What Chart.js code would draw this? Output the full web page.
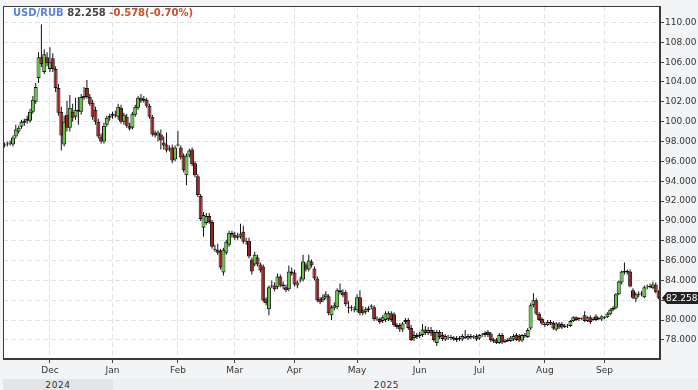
<!DOCTYPE html>
<html><head><meta charset="utf-8">
<script src="https://cdn.jsdelivr.net/npm/chart.js@4.4.1/dist/chart.umd.min.js"></script>
<style>
html,body{margin:0;padding:0;background:#f3f4f6;}
#wrap{position:relative;width:698px;height:390px;overflow:hidden;background:#f3f4f6;}
#c{position:absolute;left:0;top:0;}
#title{position:absolute;left:13px;top:7px;font:bold 10px "DejaVu Sans",sans-serif;white-space:nowrap;z-index:2;}
#title .sym{color:#5a82d8;}
#title .px{color:#444;}
#title .chg{color:#c8502c;}
.band{position:absolute;top:379px;height:11px;font:9px "DejaVu Sans",sans-serif;color:#333;text-align:center;line-height:13px;overflow:hidden;letter-spacing:0.6px;}
</style></head>
<body>
<div id="wrap">
  <div class="band" id="b2024" style="left:3px;width:110px;background:#e4e5e7;">2024</div>
  <div class="band" id="b2025" style="left:113px;width:585px;background:#eeeff1;"><span style="position:absolute;left:0;width:547px;text-align:center;">2025</span></div>
  <canvas id="c" width="698" height="390"></canvas>
  <div id="title"><span class="sym">USD/RUB</span> <span class="px">82.258</span> <span class="chg">-0.578(-0.70%)</span></div>
</div>
<script>
const startDate = '2024-11-08';
const endDate = '2025-09-26';
const monthNames = ['Jan','Feb','Mar','Apr','May','Jun','Jul','Aug','Sep','Oct','Nov','Dec'];
const yTickValues = [78,80,82,84,86,88,90,92,94,96,98,100,102,104,106,108,110];
const yTickLabels = ['78.000','80.000','82.000','84.000','86.000','88.000','90.000','92.000','94.000','96.000','98.000','100.00','102.00','104.00','106.00','108.00','110.00'];
const lastPriceLabel = '82.258';

const openV = [
97.6,97.7,97.8,97.7,98.5,99.0,99.5,99.9,100.1,100.1,
101.0,102.0,104.4,106.5,105.0,106.5,105.3,106.4,105.3,103.4,
101.0,97.7,100.7,99.4,101.0,100.5,101.2,101.0,102.4,103.4,
102.5,101.9,101.2,100.0,98.5,98.0,99.7,100.4,100.6,100.7,
100.5,101.4,100.0,100.5,99.6,99.4,100.7,101.4,102.4,102.3,
102.2,101.6,100.5,98.9,98.6,98.7,97.9,97.7,97.3,97.4,
96.2,97.6,97.4,96.6,94.6,96.6,97.2,95.8,94.5,92.5,
89.3,89.8,90.5,89.9,87.2,87.1,87.0,84.8,86.8,87.6,
88.6,88.6,88.3,88.4,88.9,87.9,88.0,86.1,85.6,86.3,
85.6,85.4,82.1,81.1,83.4,83.5,83.3,84.4,83.4,83.3,
83.1,84.9,84.8,83.5,84.0,84.1,85.6,85.1,85.9,85.2,
84.2,82.1,82.0,82.3,82.4,80.5,81.2,81.3,83.0,82.8,
82.8,81.3,81.2,81.1,81.0,82.3,81.0,80.8,81.0,81.35,
81.3,80.15,80.1,79.9,80.0,80.1,80.7,80.6,79.5,79.5,
79.05,79.8,80.0,79.2,78.2,78.3,78.4,78.5,79.05,78.7,
79.0,78.8,77.7,78.8,78.5,78.05,78.25,78.3,78.25,78.2,
78.1,78.05,78.3,78.15,78.4,78.25,78.4,78.15,78.5,78.5,
78.8,78.65,77.85,78.05,77.7,78.5,77.8,77.9,77.9,78.05,
78.5,78.4,77.95,78.4,78.3,79.15,81.5,82.0,80.65,80.1,
79.6,79.5,79.65,79.7,79.05,79.65,79.6,79.3,79.4,79.4,
79.9,80.3,80.1,80.15,80.5,79.9,80.3,80.0,80.4,80.1,
80.05,80.2,80.3,80.6,81.05,81.25,82.6,83.8,84.8,84.95,
84.9,83.0,82.15,82.55,82.65,82.3,83.3,83.45,83.2,83.6,82.8];
const highV = [
97.9,98.0,98.1,98.6,99.7,99.6,100.2,100.3,100.6,101.3,
102.6,103.9,107.0,109.8,107.3,107.0,107.5,106.9,105.6,103.8,
101.5,100.6,102.1,102.7,101.8,102.4,102.5,102.8,103.5,104.2,
102.8,102.2,101.5,100.3,98.8,99.9,100.6,100.8,101.0,101.1,
101.8,101.7,100.9,100.8,99.9,101.0,101.7,102.6,102.8,102.6,
102.4,101.8,100.7,99.1,99.1,99.2,98.5,98.9,97.6,97.7,
97.6,99.05,97.6,96.8,96.8,97.3,97.4,96.0,94.7,92.7,
90.9,90.8,90.8,90.1,87.6,87.7,87.2,87.3,88.1,89.0,
89.0,88.9,88.8,89.7,89.5,88.3,88.3,86.3,86.9,86.6,
85.8,85.6,82.3,83.5,84.0,83.8,84.7,84.6,83.9,83.6,
85.5,85.3,85.1,84.0,84.4,86.6,85.8,86.6,86.1,85.4,
84.4,82.3,82.6,82.9,82.6,81.5,81.8,83.2,83.7,83.1,
83.0,81.9,81.5,81.4,82.6,83.0,81.4,81.3,81.4,81.6,
81.5,80.4,80.3,80.5,80.9,80.9,80.9,80.8,79.7,79.7,
79.8,80.2,80.2,79.5,78.9,78.7,78.8,79.6,79.4,79.3,
79.3,79.0,79.0,79.0,78.8,78.6,78.5,78.5,78.4,78.4,
78.4,78.6,79.0,78.6,78.6,78.5,78.6,78.6,78.7,78.9,
79.0,78.8,78.2,78.2,78.7,78.7,78.1,78.2,78.4,78.6,
78.7,78.6,78.6,78.7,79.2,81.7,82.7,82.2,80.8,80.3,
79.8,80.0,80.0,79.9,79.8,79.8,79.8,79.6,79.6,80.0,
80.4,80.4,80.3,80.3,80.9,80.4,80.5,80.3,80.6,80.3,
80.5,80.4,80.8,81.2,81.4,82.7,84.0,85.0,85.8,85.1,
85.1,83.2,82.8,82.9,82.9,83.5,83.6,83.7,83.9,83.8,83.0];
const lowV = [
97.4,97.5,97.6,97.5,98.3,98.8,99.3,99.6,99.8,99.9,
100.8,101.8,103.9,105.5,104.8,105.6,105.0,105.0,103.0,100.6,
97.1,97.5,99.0,99.0,100.0,100.2,99.7,100.7,102.2,102.3,
101.6,100.2,99.7,98.3,97.8,97.8,99.5,100.1,100.3,100.4,
100.2,99.8,99.7,99.4,99.1,99.2,100.5,101.2,101.9,101.9,
101.4,100.3,98.5,98.4,98.0,97.2,97.2,96.9,97.0,95.8,
96.0,97.5,96.2,94.9,93.6,96.4,95.5,94.4,92.4,90.0,
88.4,89.6,89.7,87.2,86.9,86.6,85.1,84.5,86.6,87.4,
88.3,88.1,88.1,88.2,87.7,87.6,86.2,84.6,85.4,85.4,
84.8,81.8,81.5,80.5,83.2,82.9,83.1,83.3,83.1,82.8,
82.9,84.5,83.4,83.2,83.8,83.9,84.9,84.9,85.3,84.0,
81.8,81.6,81.8,82.1,80.5,80.0,81.0,81.1,82.6,82.3,
81.4,80.7,80.9,80.8,80.8,80.5,80.5,80.6,80.8,81.1,
79.9,79.9,79.6,79.7,79.8,79.9,79.8,79.3,79.1,78.8,
78.8,79.6,79.0,77.9,77.9,78.1,78.2,78.3,78.5,78.5,
78.4,77.8,77.4,78.1,77.9,77.9,78.0,78.0,77.9,77.8,
77.9,77.9,78.1,78.0,78.1,78.1,77.9,78.0,78.3,78.3,
78.3,77.8,77.7,77.6,77.6,77.6,77.7,77.8,77.8,77.9,
77.9,77.8,77.8,78.2,78.2,79.0,81.3,80.5,79.9,79.5,
79.3,79.4,79.5,79.0,78.9,79.1,79.1,79.2,79.2,79.3,
79.8,79.9,79.9,80.0,79.8,79.8,79.6,79.9,79.9,80.0,
79.9,80.1,80.2,80.5,80.9,81.1,82.5,83.6,84.6,84.6,
83.3,82.1,81.8,82.3,82.4,82.2,83.1,83.2,83.1,82.7,82.1];
const closeV = [
97.7,97.8,97.9,98.4,99.2,99.4,100.0,100.1,100.3,101.0,
102.2,103.5,106.5,105.8,106.8,105.9,106.0,105.3,103.4,100.9,
98.6,100.0,99.4,101.4,100.4,101.2,101.0,102.5,102.6,102.5,
101.8,100.5,100.0,98.5,98.0,99.6,100.4,100.6,100.8,100.6,
101.5,100.0,100.7,99.6,99.3,100.8,101.5,102.4,102.1,102.1,
101.6,100.5,98.7,98.6,98.9,98.1,97.6,97.1,97.2,96.1,
97.4,97.7,96.4,95.1,96.6,97.1,95.7,94.6,92.6,90.2,
90.6,90.5,89.9,87.4,87.1,86.8,85.3,87.1,87.9,88.8,
88.8,88.3,88.45,88.7,87.9,87.95,86.4,84.9,86.6,85.6,
85.0,82.0,81.7,83.3,83.5,83.1,84.4,83.5,83.6,83.0,
84.9,84.7,83.6,83.8,84.1,85.9,85.1,86.0,85.5,84.2,
82.0,81.8,82.3,82.6,80.7,81.3,81.5,83.0,82.8,82.5,
81.6,81.2,81.3,81.0,82.3,80.7,80.7,81.1,81.2,81.45,
80.1,80.05,79.8,80.3,80.7,80.7,80.0,79.5,79.3,79.05,
79.65,80.0,79.2,78.0,78.5,78.5,78.55,79.05,78.7,79.0,
78.65,78.0,78.8,78.3,78.1,78.4,78.3,78.2,78.05,78.0,
78.2,78.4,78.2,78.4,78.25,78.35,78.05,78.5,78.55,78.7,
78.5,78.0,78.05,77.7,78.5,77.75,77.9,78.05,78.25,78.4,
78.0,77.95,78.5,78.5,79.0,81.5,82.0,80.65,80.0,79.65,
79.5,79.8,79.8,79.15,79.65,79.25,79.25,79.4,79.45,79.9,
80.3,80.0,80.2,80.1,79.9,80.3,79.8,80.1,80.0,80.2,
80.4,80.3,80.65,81.05,81.25,82.6,83.9,84.9,84.95,84.8,
83.4,82.25,82.6,82.65,82.7,83.3,83.4,83.3,83.6,82.8,82.258];

// trading-day categories (weekdays)
const dates = [];
for (let d = new Date(startDate + 'T00:00:00Z'); d <= new Date(endDate + 'T00:00:00Z'); d.setUTCDate(d.getUTCDate() + 1)) {
  const w = d.getUTCDay();
  if (w > 0 && w < 6) dates.push(d.toISOString().slice(0, 10));
}
const monthTickIdx = [];
for (let i = 1; i < dates.length; i++) {
  if (dates[i].slice(5, 7) !== dates[i - 1].slice(5, 7)) monthTickIdx.push(i);
}
const monthTickLabels = monthTickIdx.map(i => monthNames[parseInt(dates[i].slice(5, 7), 10) - 1]);

const bodies = openV.map((o, i) => [o, closeV[i]]);
const wicks = lowV.map((l, i) => [l, highV[i]]);
const bodyColors = openV.map((o, i) => closeV[i] >= o ? '#5dcb3c' : '#a31b1b');

const AXIS_FONT = {family: 'DejaVu Sans', size: 9};

const framePlugin = {
  id: 'frame',
  beforeDraw(chart) {
    const {ctx, chartArea: a} = chart;
    ctx.save();
    ctx.fillStyle = '#ffffff';
    ctx.fillRect(a.left, a.top, a.right - a.left, a.bottom - a.top);
    ctx.restore();
  },
  afterDraw(chart) {
    const {ctx, chartArea: a} = chart;
    ctx.save();
    ctx.strokeStyle = '#3a3a3a';
    ctx.lineWidth = 1;
    ctx.strokeRect(Math.round(a.left) + 0.5, Math.round(a.top) + 0.5, Math.round(a.right - a.left) - 1, Math.round(a.bottom - a.top) - 1);
    // last price tag
    const y = Math.round(chart.scales.y.getPixelForValue(closeV[closeV.length - 1]));
    const x0 = a.right + 2;
    ctx.fillStyle = '#222222';
    ctx.beginPath();
    ctx.moveTo(x0, y);
    ctx.lineTo(x0 + 5, y - 6);
    ctx.lineTo(698, y - 6);
    ctx.lineTo(698, y + 6);
    ctx.lineTo(x0 + 5, y + 6);
    ctx.closePath();
    ctx.fill();
    ctx.fillStyle = '#ffffff';
    ctx.font = '9px "DejaVu Sans"';
    ctx.textBaseline = 'middle';
    ctx.textAlign = 'left';
    ctx.fillText(lastPriceLabel, x0 + 4, y + 0.5);
    ctx.restore();
  }
};

new Chart(document.getElementById('c'), {
  type: 'bar',
  data: {
    labels: dates,
    datasets: [
      {label: 'body', data: bodies, backgroundColor: bodyColors, borderColor: '#111111', borderWidth: 1,
       borderSkipped: false, barThickness: 4, grouped: false, order: 0, inflateAmount: 0},
      {label: 'wick', data: wicks, backgroundColor: '#111111', borderWidth: 0,
       barThickness: 1, grouped: false, order: 1, inflateAmount: 0}
    ]
  },
  options: {
    responsive: false,
    animation: false,
    devicePixelRatio: 1,
    layout: {padding: {left: 3, top: 2, right: 0, bottom: 0}},
    plugins: {legend: {display: false}, tooltip: {enabled: false}, title: {display: false}},
    scales: {
      x: {
        type: 'category',
        offset: true,
        grid: {offset: false, color: '#e3e3e3', tickColor: '#444', tickLength: 4, tickBorderDash: []},
        border: {display: true, color: '#3a3a3a', dash: [5, 3]},
        afterBuildTicks: axis => { axis.ticks = monthTickIdx.map(v => ({value: v})); },
        afterFit: axis => { axis.height = 31; },
        ticks: {autoSkip: false, maxRotation: 0, minRotation: 0, padding: 2, color: '#333', font: AXIS_FONT,
                callback: (v, i) => monthTickLabels[i]}
      },
      y: {
        type: 'linear',
        position: 'right',
        min: 76.08,
        max: 111.62,
        grid: {color: '#e3e3e3', tickColor: '#444', tickLength: 4, tickBorderDash: []},
        border: {display: true, color: '#3a3a3a', dash: [5, 3]},
        afterBuildTicks: axis => { axis.ticks = yTickValues.map(v => ({value: v})); },
        afterFit: axis => { axis.width = 38; },
        ticks: {padding: 1, color: '#333', font: AXIS_FONT,
                callback: (v, i) => yTickLabels[i]}
      }
    }
  },
  plugins: [framePlugin]
});
</script>
</body></html>
